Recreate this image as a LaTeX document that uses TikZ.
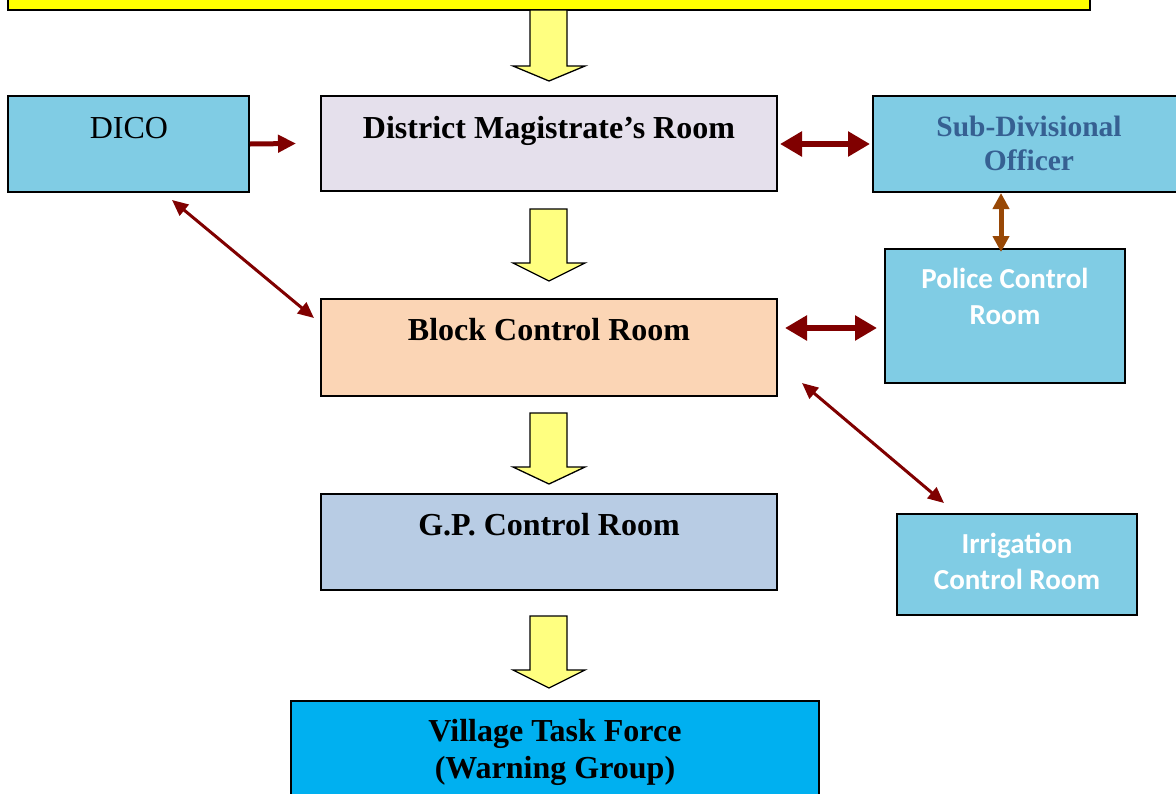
\documentclass[tikz,border=0pt]{standalone}
\usepackage{fontspec}
\setmainfont{Liberation Serif}
\newfontfamily\calibfont{Carlito}
\usetikzlibrary{arrows.meta,calc}
\definecolor{topyellow}{RGB}{255,255,0}
\definecolor{arrowyellow}{RGB}{255,255,128}
\definecolor{skyb}{RGB}{128,204,228}
\definecolor{lav}{RGB}{229,224,236}
\definecolor{peach}{RGB}{251,213,181}
\definecolor{gpblue}{RGB}{184,204,228}
\definecolor{vtf}{RGB}{0,176,240}
\definecolor{sdotext}{RGB}{54,96,146}
\definecolor{darkred}{RGB}{128,0,0}
\definecolor{brownarr}{RGB}{152,72,6}
\tikzset{
  box/.style={draw=black, line width=2pt, rectangle, inner sep=0pt},
  serif/.style={font=\fontsize{32}{37}\selectfont\bfseries, align=center, inner sep=0pt, text=black},
  sans/.style={font=\calibfont\fontsize{29}{36}\selectfont\bfseries, align=center, inner sep=0pt, text=white},
  yarrow/.style={fill=arrowyellow, draw=black, line width=1.3pt, line join=miter},
  singlered/.style={draw=darkred, line width=5pt, -{Triangle[length=18pt,width=17pt]}},
  bigdouble/.style={draw=darkred, line width=6pt, {Triangle[length=22pt,width=24pt]}-{Triangle[length=22pt,width=24pt]}},
  thindouble/.style={draw=darkred, line width=3pt, {Triangle[length=16pt,width=14pt]}-{Triangle[length=16pt,width=14pt]}},
  browndouble/.style={draw=brownarr, line width=5pt, {Triangle[length=16pt,width=16pt]}-{Triangle[length=16pt,width=16pt]}},
}
\begin{document}
\begin{tikzpicture}[x=1pt,y=-1pt]
\useasboundingbox (0,0) rectangle (1176,793);
\clip (0,0) rectangle (1176,793);
\fill[white] (0,0) rectangle (1176,793);

% boxes
\node[box, fill=topyellow, minimum width=1082pt, minimum height=40pt] (top) at (549,-10) {};
\node[box, fill=skyb, minimum width=241pt, minimum height=96pt] (dico) at (128.5,144) {};
\node[box, fill=lav, minimum width=456pt, minimum height=95pt] (dm) at (549,143.5) {};
\node[box, fill=skyb, minimum width=305pt, minimum height=96pt] (sdo) at (1025.5,144) {};
\node[box, fill=skyb, minimum width=240pt, minimum height=134pt] (police) at (1005,316) {};
\node[box, fill=peach, minimum width=456pt, minimum height=97pt] (block) at (549,347.5) {};
\node[box, fill=gpblue, minimum width=456pt, minimum height=96pt] (gp) at (549,542) {};
\node[box, fill=skyb, minimum width=240pt, minimum height=101pt] (irr) at (1017,564.5) {};
\node[box, fill=vtf, minimum width=528pt, minimum height=120pt] (vtfbox) at (555,761) {};

% texts
\node[serif, font=\fontsize{32}{37}\selectfont, anchor=base] (dicoT) at (129,138) {DICO};
\node[serif, anchor=base] (dmT) at (549,138) {District Magistrate’s Room};
\node[serif, font=\fontsize{29.5}{34}\selectfont\bfseries, text=sdotext] (sdoT) at (1029,143) {Sub-Divisional\\Officer};
\node[sans] (policeT) at (1005,296) {Police Control\\Room};
\node[serif, anchor=base] (blockT) at (549,340) {Block Control Room};
\node[serif, anchor=base] (gpT) at (549,535) {G.P. Control Room};
\node[sans] (irrT) at (1017,561) {Irrigation\\Control Room};
\node[serif] (vtfT) at (555,752) {Village Task Force\\(Warning Group)};

% yellow block arrows
\newcommand\yblock[3]{%
  \filldraw[yarrow] (530,#1) -- (567,#1) -- (567,#2) -- (585,#2) -- (549,#3) -- (513,#2) -- (530,#2) -- cycle;}
\yblock{10}{66}{81}
\yblock{209}{263}{281}
\yblock{413}{467}{484}
\yblock{616}{670}{688}

% red connectors
\draw[singlered] (dico.east) -- ($(dm.west)+(-24,0)$);
\draw[bigdouble] ([xshift=2pt,yshift=-0.5pt]dm.east) -- ([xshift=-2pt]sdo.west);
\draw[bigdouble] ([xshift=7pt,yshift=19.5pt]block.east) -- ([xshift=-7pt,yshift=-12pt]police.west);
\draw[browndouble] ([xshift=-4pt]sdo.south -| police.north) -- ([xshift=-4pt,yshift=-4pt]police.north);

\coordinate (d1) at (172,200);
\coordinate (d2) at (314,318);
\draw[thindouble] (d1) -- (d2);
\coordinate (i1) at (802,383);
\coordinate (i2) at (944,503);
\draw[thindouble] (i1) -- (i2);
\end{tikzpicture}
\end{document}
